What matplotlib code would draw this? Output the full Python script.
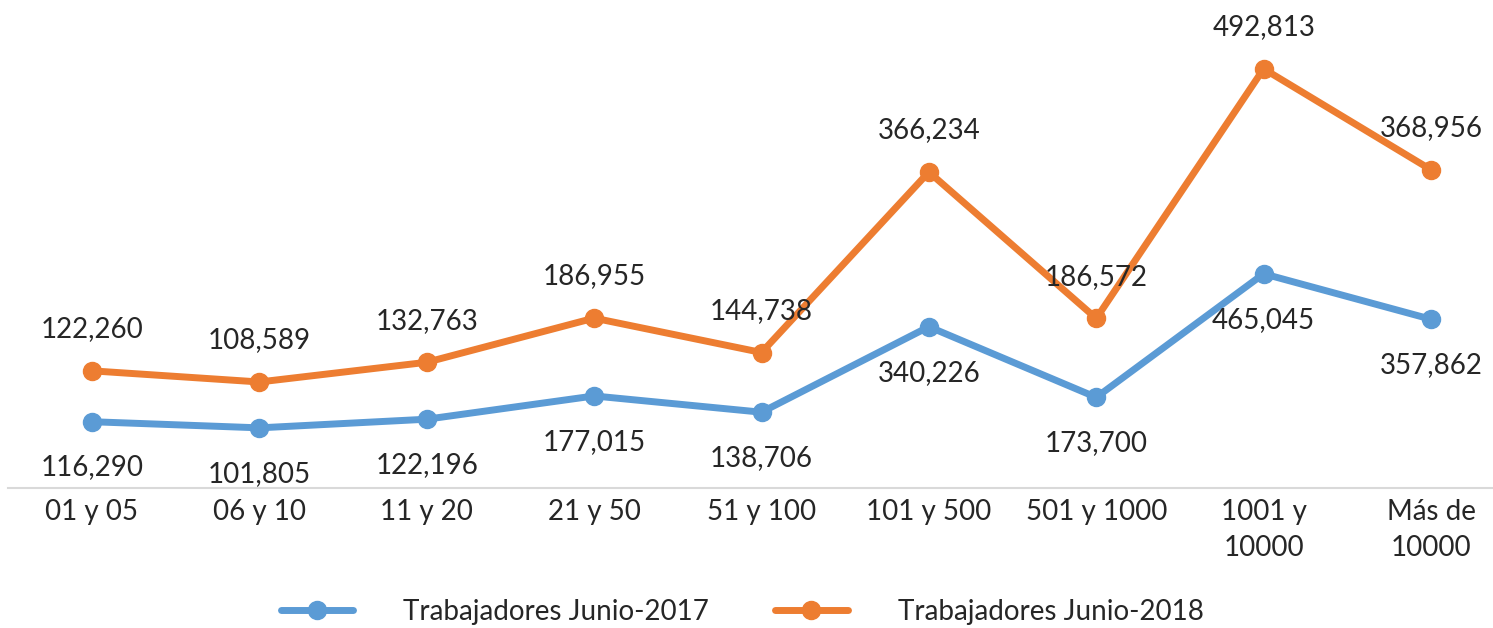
import matplotlib.pyplot as plt
from matplotlib.lines import Line2D

categories = ["01 y 05", "06 y 10", "11 y 20", "21 y 50", "51 y 100",
              "101 y 500", "501 y 1000", "1001 y\n10000", "Más de\n10000"]
junio_2017 = [116290, 101805, 122196, 177015, 138706, 340226, 173700, 465045, 357862]
junio_2018 = [122260, 108589, 132763, 186955, 144738, 366234, 186572, 492813, 368956]

blue = "#5B9BD5"
orange = "#ED7D31"
text_color = "#262626"
plt.rcParams["font.family"] = ["Lato", "DejaVu Sans"]

fig = plt.figure(figsize=(14.93, 6.28), dpi=100)
fig.set_facecolor("white")
ax = fig.add_axes([8.3 / 1493, 1 - 488 / 628, 1506.4 / 1493, 478 / 628])
ax2 = ax.twinx()

x = list(range(len(categories)))

ax.plot(x, junio_2017, color=blue, lw=5, marker="o", ms=13, solid_capstyle="round")
ax2.plot(x, junio_2018, color=orange, lw=5, marker="o", ms=13, solid_capstyle="round")

ax.set_ylim(-40000, 1087000)
ax2.set_ylim(-21500, 565000)
ax.set_xlim(-0.5, 8.5)

for xi, v in zip(x, junio_2017):
    ax.annotate(f"{v:,}", (xi, v), xytext=(0, -33), textcoords="offset points",
                ha="center", va="center", fontsize=20, color=text_color)
for xi, v in zip(x, junio_2018):
    ax2.annotate(f"{v:,}", (xi, v), xytext=(0, 30), textcoords="offset points",
                 ha="center", va="center", fontsize=20, color=text_color)

for a in (ax, ax2):
    for s in ["top", "right", "left"]:
        a.spines[s].set_visible(False)
    a.set_yticks([])
ax2.spines["bottom"].set_visible(False)
ax.spines["bottom"].set_color("#D9D9D9")
ax.spines["bottom"].set_linewidth(1.5)

ax.set_xticks(x)
ax.set_xticklabels(categories, fontsize=20, color=text_color, linespacing=1.45)
ax.tick_params(axis="x", length=0, pad=8)

handles = [
    Line2D([], [], color=blue, lw=5, marker="o", ms=13, solid_capstyle="round"),
    Line2D([], [], color=orange, lw=5, marker="o", ms=13, solid_capstyle="round"),
]
fig.legend(handles, ["Trabajadores Junio-2017", "Trabajadores Junio-2018"],
           loc="center", bbox_to_anchor=(0.497, 1 - 612 / 628), ncol=2,
           frameon=False, fontsize=20, handlelength=2.6, handletextpad=1.8,
           columnspacing=2.4, labelcolor=text_color)

fig.savefig("out.png", dpi=100)
